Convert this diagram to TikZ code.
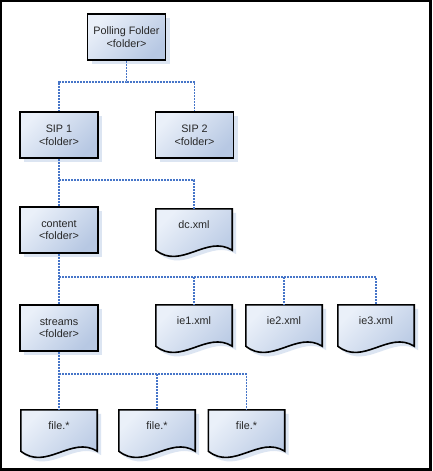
\documentclass[tikz,border=0pt]{standalone}
\usepackage{fontspec}
\setmainfont{Liberation Sans}
\usetikzlibrary{shadows,backgrounds}
\definecolor{boxlight}{HTML}{EAF0F9}
\definecolor{boxdark}{HTML}{B7C8E3}
\definecolor{boxshadow}{HTML}{DCE5F2}
\definecolor{linkblue}{HTML}{4675C8}
\tikzstyle{boxshade}=[top color=boxlight, bottom color=boxdark, shading angle=45, draw=black, line width=1.6pt,
  drop shadow={shadow xshift=4pt, shadow yshift=-4pt, fill=boxshadow, opacity=1}]
\tikzstyle{folder}=[boxshade, minimum width=78pt, minimum height=46pt, inner sep=0, align=center,
  text=black!85, font=\fontsize{10.8}{12.8}\selectfont]
\tikzstyle{doc}=[minimum width=76pt, minimum height=32pt, inner sep=0, text=black!85,
  font=\fontsize{10.8}{12.8}\selectfont]
\tikzstyle{link}=[linkblue, line width=1.1pt, dash pattern=on 2pt off 1pt]
\newcommand{\docpath}[1]{(#1.north west) -- (#1.north east) -- ([shift={(0,9)}]#1.south east)
  .. controls ([shift={(-25.3,-7)}]#1.south east) and ([shift={(25.3,29)}]#1.south west)
  .. ([shift={(0,9)}]#1.south west) -- cycle}

\begin{document}
\begin{tikzpicture}[x=1pt, y=-1pt]
\useasboundingbox (0,0) rectangle (432,471);

% folders
\node [folder] (poll)    at (126.5, 37) {Polling Folder\\<folder>};
\node [folder] (sip1)    at (59,  135) {SIP 1\\<folder>};
\node [folder] (sip2)    at (194.5,135) {SIP 2\\<folder>};
\node [folder] (content) at (59,  230) {content\\<folder>};
\node [folder] (streams) at (59,  328) {streams\\<folder>};

% documents
\node [doc] (dc)  at (194, 225) {dc.xml};
\node [doc] (ie1) at (194, 321) {ie1.xml};
\node [doc] (ie2) at (284, 321) {ie2.xml};
\node [doc] (ie3) at (376, 321) {ie3.xml};
\node [doc] (f1)  at (59,  426) {file.*};
\node [doc] (f2)  at (157, 426) {file.*};
\node [doc] (f3)  at (246.5,426) {file.*};

\begin{scope}[on background layer]
\fill [black] (0,0) rectangle (432,471);
\fill [white] (2,2) rectangle (429.3,468.3);
\foreach \n in {dc,ie1,ie2,ie3,f1,f2,f3}
  \shadedraw [boxshade] \docpath{\n};
\end{scope}

% bus levels
\coordinate (b1) at (0, 82);
\coordinate (b2) at (0, 180);
\coordinate (b3) at (0, 277);
\coordinate (b4) at (0, 374);

\draw [link] (poll.south) -- (poll.south |- b1) -| (sip1.north);
\draw [link] (poll.south |- b1) -| (sip2.north);

\draw [link] (sip1.south) -- (content.north);
\draw [link] (sip1.south |- b2) -| (dc.north);

\draw [link] (content.south) -- (streams.north);
\draw [link] (content.south |- b3) -| (ie3.north);
\draw [link] (ie1.north |- b3) -- (ie1.north);
\draw [link] (ie2.north |- b3) -- (ie2.north);

\draw [link] (streams.south) -- (f1.north);
\draw [link] (streams.south |- b4) -| (f3.north);
\draw [link] (f2.north |- b4) -- (f2.north);

\end{tikzpicture}
\end{document}
